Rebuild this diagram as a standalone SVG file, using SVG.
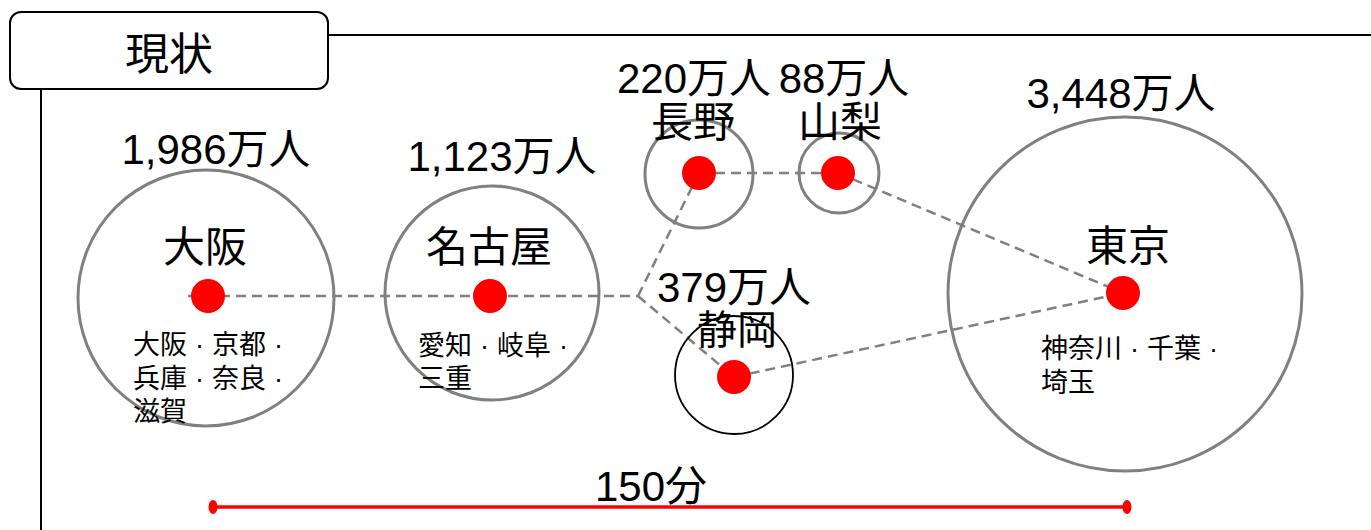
<svg xmlns="http://www.w3.org/2000/svg" width="1371" height="530" viewBox="0 0 1371 530">
<style>
text{font-family:"Liberation Sans","Noto Sans CJK JP",sans-serif;fill:#000}
.big{font-size:42px;text-anchor:middle}
.sm{font-size:27px}
.ring{fill:none;stroke:#808080;stroke-width:3}
.dot{fill:#ff0000}
.dash{stroke:#808080;stroke-width:2.5;stroke-dasharray:10 6;fill:none}
</style>
<rect width="1371" height="530" fill="#fff"/>
<g id="frame">
<line x1="328" y1="35" x2="1371" y2="35" stroke="#000" stroke-width="2"/>
<line x1="41" y1="89" x2="41" y2="530" stroke="#000" stroke-width="2"/>
<rect x="10" y="12" width="318" height="77" rx="11" fill="#fff" stroke="#000" stroke-width="2"/>
<text x="169" y="70" style="font-size:44px;text-anchor:middle">現状</text>
</g>
<g id="connectors">
<line class="dash" x1="188" y1="296" x2="638" y2="296"/>
<line class="dash" x1="638" y1="296" x2="699" y2="173"/>
<line class="dash" x1="638" y1="296" x2="734" y2="377"/>
<line class="dash" x1="699" y1="173" x2="838" y2="173"/>
<line class="dash" x1="838" y1="173" x2="1123" y2="293"/>
<line class="dash" x1="734" y1="377" x2="1123" y2="293"/>
</g>
<g id="osaka">
<circle class="ring" cx="206" cy="298" r="128"/>
<circle class="dot" cx="208" cy="296" r="17"/>
<text class="big" x="216" y="164">1,986万人</text>
<text class="big" x="205" y="262">大阪</text>
<text class="sm" x="133" y="354">大阪<tspan dx="8">·</tspan><tspan dx="8">京都</tspan><tspan dx="8">·</tspan></text>
<text class="sm" x="133" y="388">兵庫<tspan dx="8">·</tspan><tspan dx="8">奈良</tspan><tspan dx="8">·</tspan></text>
<text class="sm" x="133" y="421">滋賀</text>
</g>
<g id="nagoya">
<circle class="ring" cx="492" cy="293" r="107"/>
<circle class="dot" cx="490" cy="296" r="17"/>
<text class="big" x="502" y="171">1,123万人</text>
<text class="big" x="489" y="262">名古屋</text>
<text class="sm" x="418" y="355">愛知<tspan dx="8">·</tspan><tspan dx="8">岐阜</tspan><tspan dx="8">·</tspan></text>
<text class="sm" x="418" y="388">三重</text>
</g>
<g id="nagano">
<circle class="ring" cx="699" cy="174" r="54"/>
<circle class="dot" cx="699" cy="173" r="17"/>
<text class="big" x="694" y="93">220万人</text>
<text class="big" x="693" y="137">長野</text>
</g>
<g id="yamanashi">
<circle class="ring" cx="839" cy="173" r="40"/>
<circle class="dot" cx="838" cy="173" r="17"/>
<text class="big" x="844" y="93">88万人</text>
<text class="big" x="840" y="137">山梨</text>
</g>
<g id="shizuoka">
<circle cx="734" cy="375" r="59" fill="none" stroke="#000" stroke-width="1.8"/>
<circle class="dot" cx="734" cy="377" r="17"/>
<text class="big" x="734" y="302">379万人</text>
<text x="737" y="344" style="font-size:40px;text-anchor:middle">静岡</text>
</g>
<g id="tokyo">
<circle class="ring" cx="1125" cy="294" r="177"/>
<circle class="dot" cx="1123" cy="293" r="17"/>
<text class="big" x="1121" y="108">3,448万人</text>
<text class="big" x="1128" y="261">東京</text>
<text class="sm" x="1041" y="358">神奈川<tspan dx="8">·</tspan><tspan dx="8">千葉</tspan><tspan dx="8">·</tspan></text>
<text class="sm" x="1041" y="392">埼玉</text>
</g>
<g id="scale">
<line x1="213" y1="507" x2="1127" y2="507" stroke="#ff0000" stroke-width="3.5"/>
<ellipse cx="213" cy="507" rx="4.5" ry="7" fill="#ff0000"/>
<ellipse cx="1127" cy="507" rx="4.5" ry="7" fill="#ff0000"/>
<text class="big" x="651" y="501">150分</text>
</g>
</svg>
